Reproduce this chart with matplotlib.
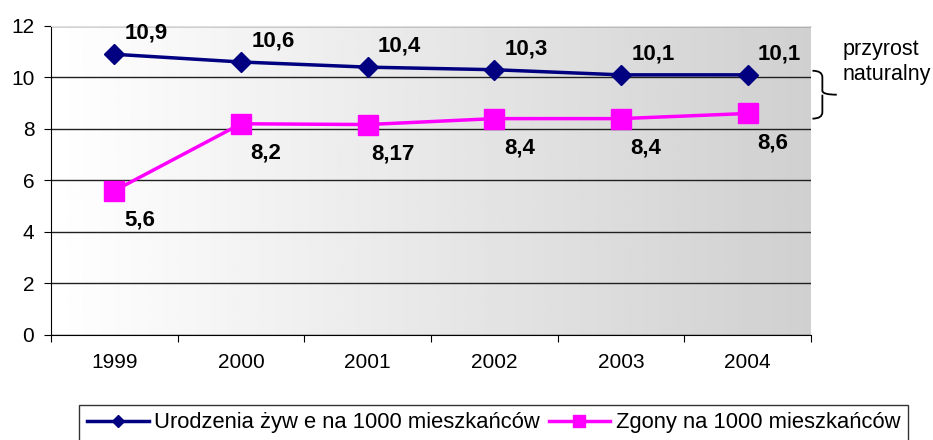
import numpy as np
import matplotlib.pyplot as plt
from matplotlib.path import Path
from matplotlib.patches import PathPatch
import matplotlib.transforms as mtransforms

plt.rcParams['font.family'] = ['Liberation Sans', 'DejaVu Sans']

years = ['1999', '2000', '2001', '2002', '2003', '2004']
births = [10.9, 10.6, 10.4, 10.3, 10.1, 10.1]
deaths = [5.6, 8.2, 8.17, 8.4, 8.4, 8.6]
births_labels = ['10,9', '10,6', '10,4', '10,3', '10,1', '10,1']
deaths_labels = ['5,6', '8,2', '8,17', '8,4', '8,4', '8,6']

fig = plt.figure(figsize=(9.33, 4.4), dpi=100)
ax = fig.add_axes([0.0547, 0.239, 0.8145, 0.702])

# gradient background, white -> gray
grad = np.linspace(1.0, 0.815, 256).reshape(1, -1)
ax.imshow(grad, extent=[0, 1, 0, 1], transform=ax.transAxes, cmap='gray',
          vmin=0, vmax=1, aspect='auto', zorder=0)

x = np.arange(len(years))
ax.plot(x, births, '-', color='#000080', lw=2.5, marker='D', ms=10,
        label='Urodzenia żyw e na 1000 mieszkańców', zorder=3)
ax.plot(x, deaths, '-', color='#FF00FF', lw=2.5, marker='s', ms=14,
        label='Zgony na 1000 mieszkańców', zorder=3)

for xi, v, t in zip(x, births, births_labels):
    ax.annotate(t, (xi, v), xytext=(23, 15), textcoords='offset points',
                fontsize=16, fontweight='bold', ha='center', va='center')
for xi, v, t in zip(x, deaths, deaths_labels):
    ax.annotate(t, (xi, v), xytext=(18, -21), textcoords='offset points',
                fontsize=16, fontweight='bold', ha='center', va='center')

ax.set_xlim(-0.5, 5.5)
ax.set_ylim(0, 12)
ax.set_yticks(range(0, 13, 2))
ax.yaxis.grid(True, color='#202020', lw=1)
ax.set_axisbelow(True)
for g in ax.get_ygridlines():
    g.set_zorder(1)

ax.set_xticks(np.arange(-0.5, 6, 1))
ax.set_xticklabels([])
ax.set_xticks(x, minor=True)
ax.set_xticklabels(years, minor=True)
ax.tick_params(axis='x', which='minor', length=0, pad=13, labelsize=15)
ax.tick_params(axis='x', which='major', length=5, direction='out')
ax.tick_params(axis='y', length=5, direction='out', labelsize=15, pad=7)

ax.spines['right'].set_visible(False)
ax.spines['top'].set_color('#e0e0e0')
ax.spines['left'].set_color('black')
ax.spines['bottom'].set_color('black')

# brace on the right
trans = mtransforms.blended_transform_factory(ax.transAxes, ax.transData)
x0, x1, x2 = 1.002, 1.015, 1.034
ya, ym, yb = 10.26, 9.33, 8.4
verts = [(x0, ya), (x1, ya), (x1, ya - 0.25),
         (x1, ym + 0.15), (x1, ym), (x2, ym),
         (x1, ym), (x1, ym - 0.15),
         (x1, yb + 0.25), (x1, yb), (x0, yb)]
codes = [Path.MOVETO, Path.CURVE3, Path.CURVE3,
         Path.LINETO, Path.CURVE3, Path.CURVE3,
         Path.MOVETO, Path.CURVE3, Path.LINETO, Path.CURVE3, Path.CURVE3]
ax.add_patch(PathPatch(Path(verts, codes), fc='none', ec='black', lw=1.3,
                       transform=trans, clip_on=False))
fig.text(0.9035, 0.912, 'przyrost\nnaturalny', fontsize=15.5, ha='left', va='top',
         linespacing=1.25)

leg = fig.legend(loc='upper center', bbox_to_anchor=(0.529, 0.08), ncol=2,
                 fontsize=15.8, frameon=True, fancybox=False, edgecolor='black',
                 handlelength=2.8, handletextpad=0.25, columnspacing=0.4,
                 borderpad=0.35, markerscale=0.6, borderaxespad=0)
leg.get_frame().set_linewidth(1)

fig.savefig('out.png', dpi=100)
